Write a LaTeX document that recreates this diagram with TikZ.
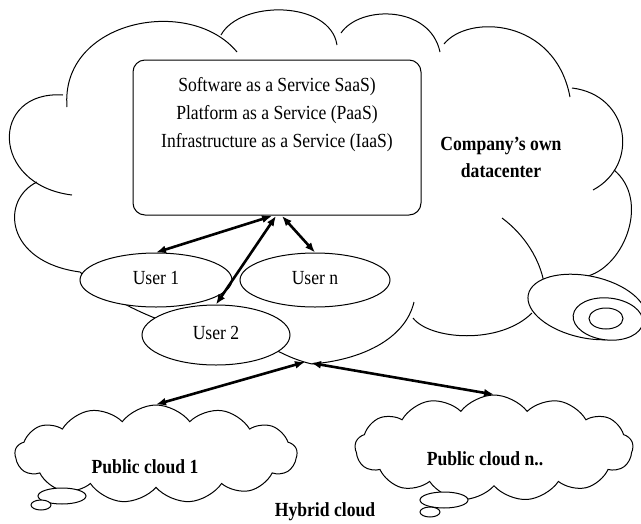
\documentclass[tikz,border=0pt]{standalone}
\usepackage{graphicx}
\usepackage{fontspec}
\setmainfont{Liberation Serif}
\usetikzlibrary{arrows.meta,shapes.geometric,shapes.symbols}
\newcommand\condtxt[1]{\scalebox{0.88}[1]{\begin{tabular}{@{}c@{}}#1\end{tabular}}}
\begin{document}
\begin{tikzpicture}[x=1pt,y=-1pt,
  outline/.style={line width=1pt},
  lbl/.style={font=\fontsize{20}{28}\selectfont, inner sep=0pt, align=center},
  blbl/.style={font=\fontsize{20}{27}\selectfont\bfseries, inner sep=0pt, align=center},
  usr/.style={ellipse, draw, fill=white, line width=1pt, inner sep=0pt, font=\fontsize{20}{24}\selectfont},
  pub/.style={cloud, draw, fill=white, line width=1pt, cloud puffs=13, cloud puff arc=105, aspect=2.8, inner sep=0pt},
  bubble/.style={draw, fill=white, line width=1pt},
  dbl/.style={line width=2.6pt, {Latex[length=10pt,width=8pt]}-{Latex[length=10pt,width=8pt]}}
]
\useasboundingbox (0,0) rectangle (641,523);
\clip (0,0) rectangle (641,523);

% ---- big cloud (company's own datacenter) ----
\draw[outline] (67,107) .. controls (60,20) and (190,-5) .. (237,52);
\draw[outline] (221,35) .. controls (240,0) and (330,0) .. (337,45);
\draw[outline] (341,33) .. controls (360,5) and (430,5) .. (440,52);
\draw[outline] (444,44) .. controls (468,14) and (555,18) .. (570,97);
\draw[outline] (572,88) .. controls (630,95) and (640,165) .. (593,190);
\draw[outline] (614,170) .. controls (650,200) and (625,265) .. (588,276);
\draw[outline] (502,218) .. controls (525,235) and (540,260) .. (544,283);
\draw[outline] (413,318) .. controls (430,340) and (500,345) .. (532,313);
\draw[outline] (312,364) .. controls (360,360) and (405,340) .. (414,302);
\draw[outline] (262,343) .. controls (285,355) and (295,360) .. (312,364);
\draw[outline] (37,182) .. controls (0,200) and (5,262) .. (80,272)
                .. controls (100,290) and (120,305) .. (165,322);
\draw[outline] (63,95) .. controls (-10,90) and (-10,185) .. (72,195);

% callout bubbles of the big cloud
\draw[bubble, rotate around={-12:(587,307)}] (587,307) ellipse [x radius=60, y radius=31];
\draw[bubble, rotate around={-6:(608,319)}] (608,319) ellipse [x radius=35, y radius=21];
\draw[bubble] (606,318.5) ellipse [x radius=17, y radius=10.5];

% ---- service box ----
\node[draw, rounded corners=12pt, line width=1pt, minimum width=288pt, minimum height=155pt, inner sep=0pt] (box) at (277,137.5) {};
\node[lbl] (svc) at (277,114)
  {\condtxt{Software as a Service SaaS)\\Platform as a Service (PaaS)\\Infrastructure as a Service (IaaS)}};
\node[blbl] (dc) at (501,159) {\condtxt{Company’s own\\datacenter}};

% ---- users ----
\node[usr, minimum width=152pt, minimum height=54pt] (u1) at (156,280) {\condtxt{User 1}};
\node[usr, minimum width=150pt, minimum height=54pt] (un) at (315,280) {\condtxt{User n}};
\node[usr, minimum width=148pt, minimum height=60pt] (u2) at (216,335) {\condtxt{User 2}};

% ---- public clouds ----
\node[pub, minimum width=282pt, minimum height=98pt] (pc1) at (156,454) {};
\node[pub, minimum width=278pt, minimum height=106pt] (pcn) at (494,448) {};
\draw[bubble] (62,496) ellipse [x radius=24, y radius=8];
\draw[bubble] (41,505) ellipse [x radius=10, y radius=5];
\draw[bubble] (444,500) ellipse [x radius=24, y radius=8];
\draw[bubble] (430,512) ellipse [x radius=10, y radius=5];
\node[blbl] (pc1l) at (145,468) {\condtxt{Public cloud 1}};
\node[blbl] (pcnl) at (485,460) {\condtxt{Public cloud n..}};
\node[blbl] (hyb) at (325,511) {\condtxt{Hybrid cloud}};

% ---- connectors ----
\coordinate (h1a) at (272,216);
\coordinate (h1b) at (276,216);
\coordinate (h1c) at (282,216);
\coordinate (h2a) at (305,362);
\coordinate (h2b) at (311,363);
\draw[dbl] (u1.north) -- (h1a);
\draw[dbl] (u2.north) -- (h1b);
\draw[dbl] (un.north) -- (h1c);
\draw[dbl] (pc1.north) -- (h2a);
\draw[dbl] (pcn.north) -- (h2b);
\end{tikzpicture}
\end{document}
